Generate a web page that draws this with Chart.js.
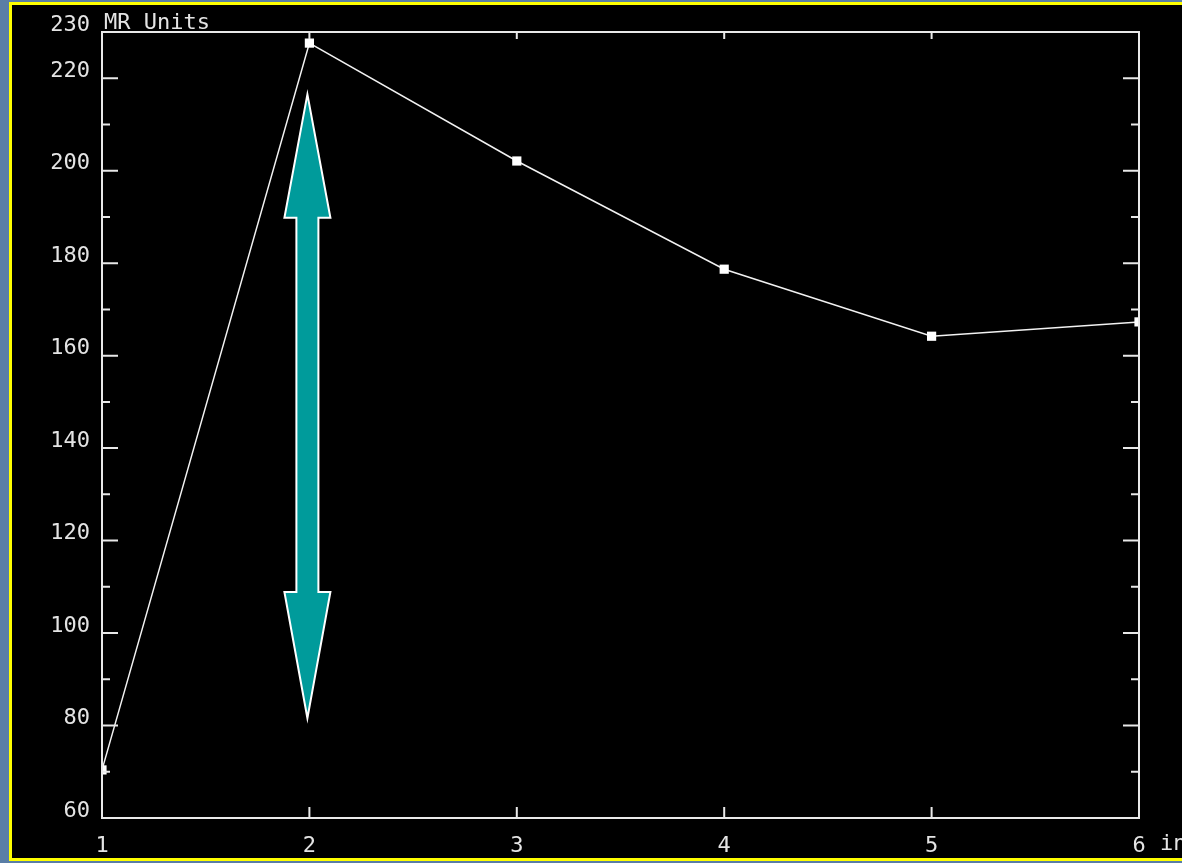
<!DOCTYPE html>
<html>
<head>
<meta charset="utf-8">
<script src="https://cdn.jsdelivr.net/npm/chart.js@4/dist/chart.umd.min.js"></script>
<style>
  html, body { margin: 0; padding: 0; }
  body { width: 1182px; height: 863px; overflow: hidden; background: #5a7ea6; position: relative; }
  #panel { position: absolute; left: 9px; top: 2px; width: 1200px; height: 853px; background: #000; border: 3px solid #ffff00; }
  #wrap { position: absolute; left: 0; top: 0; width: 1182px; height: 863px; }
</style>
</head>
<body>
<div id="panel"></div>
<div id="wrap"><canvas id="mrChart"></canvas></div>
<script>
// data
const xValues = [1, 2, 3, 4, 5, 6];
const mrValues = [70.4, 227.6, 202.1, 178.7, 164.2, 167.3];
const yMin = 60, yMax = 230;
const xUnit = 'in';
const yUnit = 'MR Units';
// double arrow annotation (at x = 2, from/to values)
const arrowX = 2;
const arrowTop = 216.5, arrowTopBase = 189.8;
const arrowBottom = 81.6, arrowBottomBase = 108.9;

const textColor = '#e4e4e4';
const fontFam = '"DejaVu Sans Mono", "Liberation Mono", monospace';

// inward ticks, frame, unit labels and the arrow
const framePlugin = {
  id: 'frame',
  afterDatasetsDraw(chart) {
    const ctx = chart.ctx;
    const a = chart.chartArea;
    const xs = chart.scales.x, ys = chart.scales.y;
    ctx.save();

    // arrow
    const cx = xs.getPixelForValue(arrowX) - 2;
    const yt = ys.getPixelForValue(arrowTop), ytb = ys.getPixelForValue(arrowTopBase);
    const yb = ys.getPixelForValue(arrowBottom), ybb = ys.getPixelForValue(arrowBottomBase);
    const hw = 23, sw = 11;
    ctx.beginPath();
    ctx.moveTo(cx, yt);
    ctx.lineTo(cx + hw, ytb);
    ctx.lineTo(cx + sw, ytb);
    ctx.lineTo(cx + sw, ybb);
    ctx.lineTo(cx + hw, ybb);
    ctx.lineTo(cx, yb);
    ctx.lineTo(cx - hw, ybb);
    ctx.lineTo(cx - sw, ybb);
    ctx.lineTo(cx - sw, ytb);
    ctx.lineTo(cx - hw, ytb);
    ctx.closePath();
    ctx.fillStyle = '#009b9b';
    ctx.fill();
    ctx.strokeStyle = '#ffffff';
    ctx.lineWidth = 2;
    ctx.stroke();

    // frame
    ctx.strokeStyle = '#e8e8e8';
    ctx.lineWidth = 2;
    ctx.strokeRect(a.left, a.top, a.right - a.left, a.bottom - a.top);

    // y ticks, left and right, pointing inward
    ys.ticks.forEach(t => {
      const y = ys.getPixelForValue(t.value);
      const len = t.value % 20 === 0 ? 16 : 8;
      ctx.beginPath();
      ctx.moveTo(a.left, y); ctx.lineTo(a.left + len, y);
      ctx.moveTo(a.right, y); ctx.lineTo(a.right - len, y);
      ctx.stroke();
    });
    // x ticks, top and bottom
    xs.ticks.forEach(t => {
      const x = xs.getPixelForValue(t.value);
      ctx.beginPath();
      ctx.moveTo(x, a.top); ctx.lineTo(x, a.top + 7);
      ctx.moveTo(x, a.bottom); ctx.lineTo(x, a.bottom - 11);
      ctx.stroke();
    });

    // unit labels
    ctx.fillStyle = textColor;
    ctx.font = '22px ' + fontFam;
    ctx.textBaseline = 'middle';
    ctx.textAlign = 'left';
    ctx.fillText(yUnit, a.left + 2, ys.getPixelForValue(yMax) - 9);
    ctx.fillText(xUnit, xs.getPixelForValue(6) + 21, a.bottom + 26);
    ctx.restore();
  }
};

const mrCtx = document.getElementById('mrChart').getContext('2d');
const mrChart = new Chart(mrCtx, {
  type: 'line',
  data: {
    datasets: [{
      data: xValues.map((x, i) => ({ x: x, y: mrValues[i] })),
      borderColor: '#f2f2f2',
      borderWidth: 1.5,
      pointStyle: 'rect',
      pointRadius: 6.5,
      pointBackgroundColor: '#ffffff',
      pointBorderWidth: 0,
      tension: 0,
      clip: 0
    }]
  },
  options: {
    responsive: true,
    maintainAspectRatio: false,
    animation: false,
    layout: { padding: { top: 32, right: 43, bottom: 0, left: 0 } },
    plugins: { legend: { display: false }, tooltip: { enabled: false } },
    scales: {
      x: {
        type: 'linear',
        min: 1,
        max: 6,
        grid: { display: false },
        border: { display: false },
        ticks: {
          stepSize: 1,
          color: textColor,
          font: { family: fontFam, size: 22 },
          padding: 7,
          maxRotation: 0
        },
        afterFit(scale) { scale.height = 45; }
      },
      y: {
        min: yMin,
        max: yMax,
        grid: { display: false },
        border: { display: false },
        ticks: {
          stepSize: 10,
          autoSkip: false,
          color: textColor,
          font: { family: fontFam, size: 22 },
          padding: 4,
          labelOffset: -7,
          callback: v => (v % 20 === 0 || v === yMax) ? String(v) : ''
        },
        afterFit(scale) { scale.width = 102; }
      }
    }
  },
  plugins: [framePlugin]
});
</script>
</body>
</html>
